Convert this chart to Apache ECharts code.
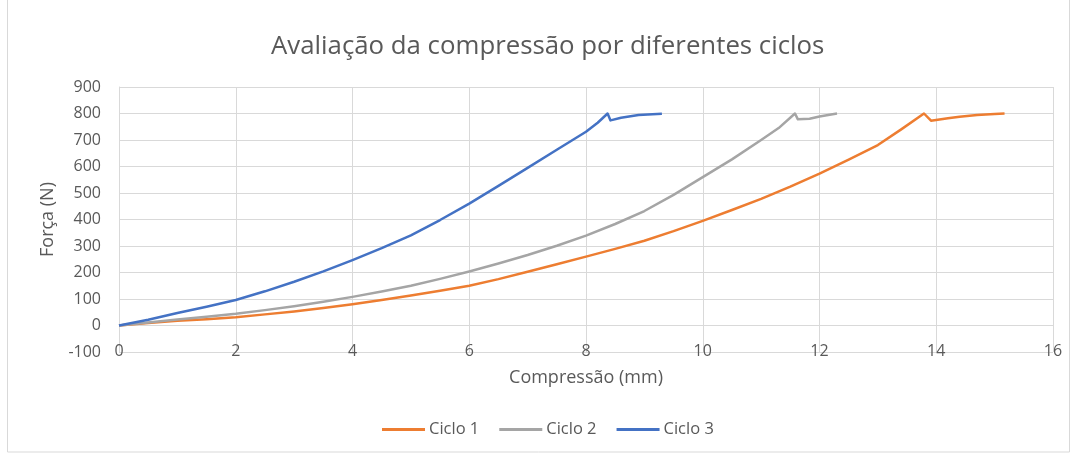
<!DOCTYPE html>
<html>
<head>
<meta charset="utf-8">
<title>Avaliação da compressão por diferentes ciclos</title>
<script src="https://cdn.jsdelivr.net/npm/echarts@6/dist/echarts.min.js"></script>
<style>
  html, body { margin: 0; padding: 0; background: #fff; }
  #chart { width: 1073px; height: 455px; }
</style>
</head>
<body>
<div id="chart"></div>
<script>
// valores: [compressão (mm), força (N)]
var ciclo1 = [
  [0, 0], [0.5, 9], [1, 18], [1.5, 24], [2, 31], [2.5, 42], [3, 53], [3.5, 66],
  [4, 80], [4.5, 96], [5, 113], [5.5, 131], [6, 150], [6.5, 175], [7, 203],
  [7.5, 231], [8, 260], [8.5, 289], [9, 320], [9.5, 356], [10, 395],
  [10.5, 436], [11, 478], [11.5, 524], [12, 573], [12.5, 626], [13, 681],
  [13.4, 740], [13.79, 800], [13.91, 773], [14.2, 782], [14.4, 788],
  [14.7, 794], [15.0, 798], [15.17, 800]
];
var ciclo2 = [
  [0, 0], [0.5, 11], [1, 23], [1.5, 33], [2, 44], [2.5, 58], [3, 73], [3.5, 90],
  [4, 108], [4.5, 128], [5, 150], [5.5, 176], [6, 204], [6.5, 234], [7, 266],
  [7.5, 301], [8, 339], [8.5, 383], [9, 432], [9.5, 493], [10, 560],
  [10.5, 627], [11, 700], [11.3, 745], [11.58, 800], [11.63, 778],
  [11.83, 780], [12.0, 789], [12.3, 800]
];
var ciclo3 = [
  [0, 0], [0.5, 22], [1, 47], [1.5, 71], [2, 96], [2.5, 129], [3, 165],
  [3.5, 204], [4, 247], [4.5, 292], [5, 340], [5.5, 398], [6, 460],
  [6.5, 527], [7, 595], [7.5, 663], [8, 731], [8.2, 765], [8.37, 800],
  [8.42, 774], [8.6, 784], [8.9, 794], [9.3, 799]
];
var nomes = ["Ciclo 1", "Ciclo 2", "Ciclo 3"];
var cores = ["#ED7D31", "#A5A5A5", "#4472C4"];

var chart = echarts.init(document.getElementById("chart"));
var fonte = "'Open Sans', 'Noto Sans', sans-serif";

function serie(nome, dados, cor) {
  return {
    name: nome,
    type: "line",
    data: dados,
    showSymbol: false,
    symbol: "none",
    lineStyle: { color: cor, width: 2.5, join: "round" },
    itemStyle: { color: cor }
  };
}

chart.setOption({
  animation: false,
  textStyle: { fontFamily: fonte },
  title: {
    text: "Avaliação da compressão por diferentes ciclos",
    left: 266,
    top: 29,
    textStyle: { fontSize: 25.8, fontWeight: "normal", color: "#595959", fontFamily: fonte }
  },
  legend: {
    data: nomes,
    bottom: 12,
    left: 377,
    itemWidth: 43,
    itemHeight: 3,
    itemGap: 20,
    icon: "rect",
    textStyle: { fontSize: 16.5, color: "#595959", padding: [0, 0, 0, -1] }
  },
  grid: { left: 119, right: 20, top: 87, bottom: 103 },
  xAxis: {
    type: "value",
    min: 0,
    max: 16,
    interval: 2,
    name: "Compressão (mm)",
    nameLocation: "middle",
    nameGap: 17,
    nameTextStyle: { fontSize: 18, color: "#595959" },
    axisLine: { show: false },
    axisTick: { show: false },
    axisLabel: { fontSize: 16, color: "#595959", margin: -9 },
    splitLine: { show: true, lineStyle: { color: "#d9d9d9", width: 1 } }
  },
  yAxis: {
    type: "value",
    min: -100,
    max: 900,
    interval: 100,
    name: "Força (N)",
    nameLocation: "middle",
    nameGap: 62,
    nameTextStyle: { fontSize: 18, color: "#595959" },
    axisLine: { show: true, onZero: false, lineStyle: { color: "#d9d9d9" } },
    axisTick: { show: false },
    axisLabel: { fontSize: 16, color: "#595959", margin: 18 },
    splitLine: { show: true, lineStyle: { color: "#d9d9d9", width: 1 } }
  },
  graphic: [{
    type: "rect",
    shape: { x: 7.5, y: -1, width: 1062, height: 453 },
    style: { fill: "none", stroke: "#d9d9d9", lineWidth: 1 },
    silent: true
  }],
  series: [
    serie(nomes[0], ciclo1, cores[0]),
    serie(nomes[1], ciclo2, cores[1]),
    serie(nomes[2], ciclo3, cores[2])
  ]
});
</script>
</body>
</html>
